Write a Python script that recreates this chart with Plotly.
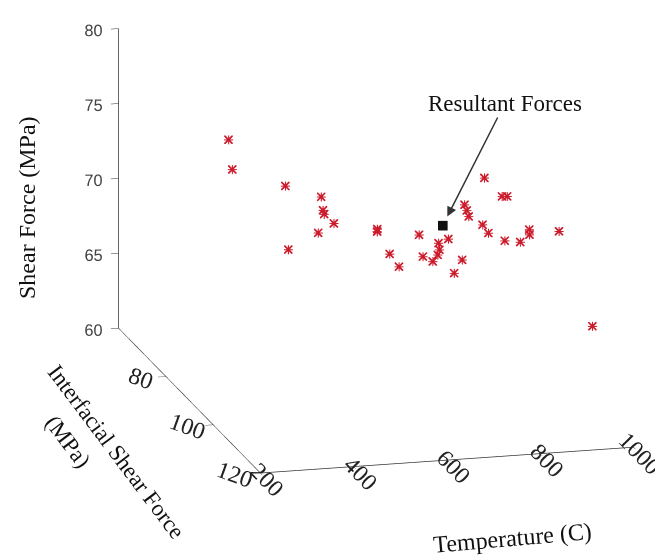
import plotly.graph_objects as go

# Data: Temperature (C), Interfacial Shear Force (MPa), Shear Force (MPa)
temperature = [359.5, 342.2, 430.7, 482.2, 511.3, 463.3, 560.0, 425.1, 310.4, 602.2,
               551.8, 552.9, 547.6, 717.3, 649.6, 696.0, 784.4, 735.6, 681.3, 830.7,
               708.4, 666.0, 933.3, 840.0, 819.6, 798.4, 895.1, 906.2, 828.2, 815.3,
               825.1, 832.9, 928.2, 903.3, 916.0, 962.2]
interfacial = [75, 80, 85, 90, 85, 95, 80, 100, 110, 90,
               100, 105, 110, 85, 100, 95, 80, 90, 100, 75,
               105, 110, 70, 80, 85, 90, 85, 85, 90, 95,
               100, 105, 90, 95, 105, 110]
shear = [74.66, 73.52, 73.03, 73.00, 71.24, 72.69, 69.45, 72.33, 73.07, 70.42,
         72.31, 71.45, 71.42, 69.15, 70.26, 69.03, 67.65, 68.92, 70.31, 67.02,
         70.72, 70.73, 70.07, 70.09, 70.56, 71.01, 71.33, 71.31, 70.39, 70.67,
         70.94, 71.64, 69.85, 70.37, 72.18, 66.55]

resultant_t = [742.9]
resultant_i = [90]
resultant_s = [70.52]

x_ticks = [200, 400, 600, 800, 1000]
y_ticks = [80, 100, 120]
z_ticks = [60, 65, 70, 75, 80]

red = "#cc1c2c"

fig = go.Figure()
fig.add_trace(go.Scatter3d(
    x=temperature, y=interfacial, z=shear, mode="markers",
    marker=dict(symbol="cross", size=5, color=red, line=dict(width=0)),
    showlegend=False, hoverinfo="skip"))
fig.add_trace(go.Scatter3d(
    x=temperature, y=interfacial, z=shear, mode="markers",
    marker=dict(symbol="x", size=2, color=red, line=dict(width=0)),
    showlegend=False, hoverinfo="skip"))
fig.add_trace(go.Scatter3d(
    x=resultant_t, y=resultant_i, z=resultant_s, mode="markers",
    marker=dict(symbol="square", size=5, color="#111111"),
    showlegend=False))

serif = "Liberation Serif"
axis_common = dict(showbackground=False, showgrid=False, zeroline=False,
                   showline=True, linecolor="#333333", linewidth=1.5,
                   ticks="outside", ticklen=8, tickcolor="#333333",
                   showspikes=False, title=dict(text=""))

d = 2.5
k = 1.34
cx, cz = -0.181, -0.1355
fig.update_layout(
    width=655, height=555,
    margin=dict(l=0, r=0, t=0, b=0),
    paper_bgcolor="white",
    scene=dict(
        domain=dict(x=[0, 1.0], y=[0, 1.0]),
        xaxis=dict(range=[200, 1000], tickvals=x_ticks,
                   tickfont=dict(family=serif, size=17, color="#222"), **axis_common),
        yaxis=dict(range=[120, 60], autorange=False, tickvals=y_ticks, tickangle=20,
                   tickfont=dict(family=serif, size=17, color="#222"), **axis_common),
        zaxis=dict(range=[60, 80], tickvals=z_ticks, tickangle=0,
                   tickfont=dict(family="Liberation Sans", size=14, color="#444"), **axis_common),
        aspectmode="manual",
        aspectratio=dict(x=1.037 * k, y=1.513 * k, z=0.836 * k),
        camera=dict(projection=dict(type="orthographic"),
                    up=dict(x=0, y=0, z=1),
                    center=dict(x=cx, y=0.0, z=cz),
                    eye=dict(x=-0.243 * d + cx, y=-0.933 * d, z=0.266 * d + cz)),
        annotations=[dict(x=resultant_t[0], y=resultant_i[0], z=resultant_s[0],
                          text="Resultant Forces", showarrow=True,
                          ax=62, ay=-122, arrowhead=2, arrowsize=1.3,
                          arrowwidth=1.5, arrowcolor="#333", standoff=10,
                          font=dict(family=serif, size=23, color="#111"))],
    ),
    annotations=[
        dict(text="Shear Force (MPa)", x=27 / 655, y=1 - 208 / 555, xref="paper", yref="paper",
             xanchor="center", yanchor="middle",
             showarrow=False, textangle=-90, font=dict(family=serif, size=24, color="#111")),
        dict(text="Interfacial Shear Force", x=117 / 655, y=1 - 452 / 555,
             xref="paper", yref="paper", xanchor="center", yanchor="middle",
             showarrow=False, textangle=53,
             font=dict(family=serif, size=23, color="#111")),
        dict(text="(MPa)", x=68 / 655, y=1 - 441 / 555,
             xref="paper", yref="paper", xanchor="center", yanchor="middle",
             showarrow=False, textangle=53,
             font=dict(family=serif, size=23, color="#111")),
        dict(text="Temperature (C)", x=512 / 655, y=1 - 538 / 555, xref="paper", yref="paper",
             xanchor="center", yanchor="middle",
             showarrow=False, textangle=-5, font=dict(family=serif, size=24, color="#111")),
    ],
)

fig.write_html("out.html")
